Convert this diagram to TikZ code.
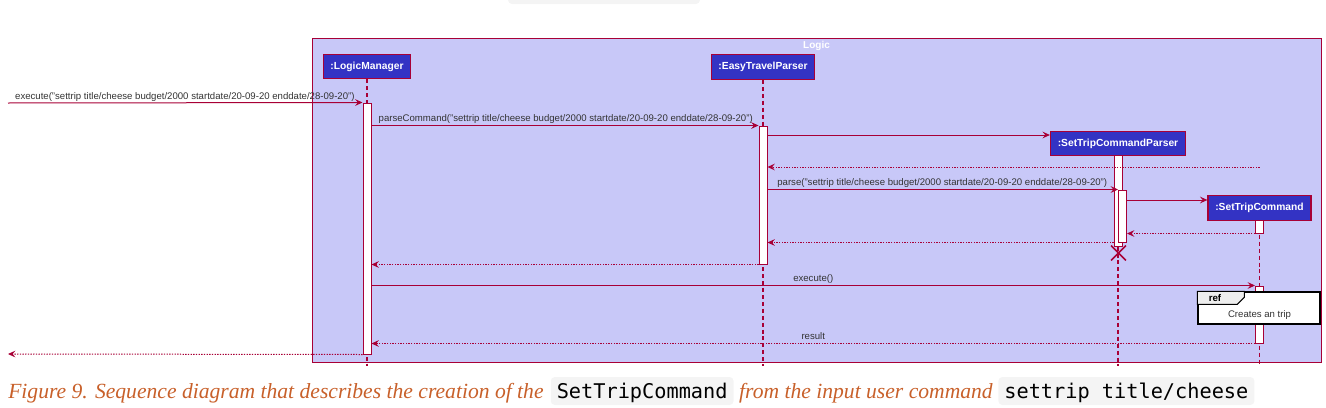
\documentclass[tikz,border=0pt]{standalone}
\usepackage{fontspec}
\setmainfont{Liberation Serif}
\setsansfont{Liberation Sans}
\setmonofont{DejaVu Sans Mono}
\usepackage{tikz}
\usetikzlibrary{arrows.meta, positioning, calc, fit, shapes.misc}
\definecolor{plumred} {HTML}{A80036}
\definecolor{logicbg} {HTML}{C8C8F8}
\definecolor{partbg}  {HTML}{3333C4}
\definecolor{capt}    {HTML}{C8602A}
\definecolor{codebg}  {HTML}{F4F4F4}
\definecolor{refhead} {HTML}{EEEEEE}

\begin{document}
\begin{tikzpicture}[x=0.75pt, y=-0.75pt,
  % One unit is one pixel of the screenshot, counted from the top left corner.
  part/.style={draw=plumred, fill=partbg, line width=0.9pt, text=white,
               font=\sffamily\bfseries\fontsize{7.7}{9}\selectfont,
               minimum height=18.5pt, inner xsep=5.5pt, inner ysep=0pt},
  life/.style={plumred, line width=0.8pt, dash pattern=on 3pt off 2.2pt},
  act/.style={draw=plumred, fill=white, line width=0.75pt, inner sep=0pt},
  % Calls are solid, returns dotted; both carry the same tip.
  call/.style={plumred, line width=0.75pt, -{Stealth[length=5.5pt, width=5pt, inset=2pt]}},
  ret/.style={call, dash pattern=on 1pt off 1pt},
  lbl/.style={font=\sffamily\fontsize{7.2}{8}\selectfont, text=black!80, inner sep=0pt},
  captext/.style={font=\rmfamily\itshape\fontsize{16.2}{19}\selectfont, text=capt, inner sep=0pt},
  code/.style={font=\ttfamily\fontsize{15.2}{18}\selectfont, fill=codebg, rounded corners=3pt,
               inner xsep=4.5pt, inner ysep=3pt, text height=12.75pt, text depth=2.25pt}
]
\useasboundingbox (0,0) rectangle (1326,407);

% cut-off code box of the line above
\fill[codebg, rounded corners=3pt] (508,-8) rectangle (700,4);

\node[draw=plumred, fill=logicbg, line width=0.75pt, inner sep=0pt, fit={(312,38) (1321,362)}] (logic) {};
\node[font=\sffamily\bfseries\fontsize{7.5}{9}\selectfont, text=white, anchor=north, inner sep=2.5pt] (logicT) at (logic.north) {Logic};

\node[part] (lm)   at (367,66.5)  {:LogicManager};
\node[part] (etp)  at (763,67)    {:EasyTravelParser};
\node[part] (stcp) at (1118,143.5) {:SetTripCommandParser};
\node[part] (stc)  at (1259.5,208) {:SetTripCommand};

\coordinate (foot)       at (0,366);
\coordinate (caller)     at (8,103);
\coordinate (callerBack) at (8,354);
\coordinate (rowNew1)    at (0,135);
\coordinate (rowBack1)   at (0,167);
\coordinate (rowNew2)    at (0,200);

\foreach \p in {lm, etp, stcp, stc}
  \draw[life] (\p.south) -- (\p.south |- foot);

\node[act, fit={(363,103) (371,354)}]       (lmAct)   {};
\node[act, fit={(759,126) (767,264)}]       (etpAct)  {};
\node[act, fit={(1114,155) (1122.5,246)}]   (stcpAct) {};
\node[act, fit={(1118.5,190) (1126.5,242)}] (stcpIn)  {};
\node[act, fit={(1255.5,220) (1263.5,233)}] (stcAct1) {};
\node[act, fit={(1255.5,286) (1263.5,343)}] (stcAct2) {};

\draw[call] (caller) -- node[lbl, pos=0, anchor=base west, xshift=5pt, yshift=3pt] (mExec) {execute("settrip title/cheese budget/2000 startdate/20-09-20 enddate/28-09-20")} (lmAct.north west);
\draw[call] (lmAct.east |- etpAct.north) -- node[lbl, pos=0, anchor=base west, xshift=5pt, yshift=3pt] (mParseCmd) {parseCommand("settrip title/cheese budget/2000 startdate/20-09-20 enddate/28-09-20")} (etpAct.north west);
\draw[call] (etpAct.east |- rowNew1) -- (stcp.west |- rowNew1);
\draw[ret]  (stc |- rowBack1) -- (etpAct.east |- rowBack1);
\draw[call] (etpAct.east |- stcpIn.north) -- node[lbl, pos=0, anchor=base west, xshift=7pt, yshift=3pt] (mParse) {parse("settrip title/cheese budget/2000 startdate/20-09-20 enddate/28-09-20")} (stcpIn.north west);
\draw[call] (stcpIn.east |- rowNew2) -- (stc.west |- rowNew2);
\draw[ret]  (stcAct1.south west) -- (stcpIn.east |- stcAct1.south);
\draw[ret]  (stcpAct.west |- stcpIn.south) -- (etpAct.east |- stcpIn.south);
\draw[ret]  (etpAct.south west) -- (lmAct.east |- etpAct.south);
\draw[call] (lmAct.east |- stcAct2.north) -- node[lbl, midway, anchor=base, yshift=3pt] (mExec2) {execute()} (stcAct2.north west);
\draw[ret]  (stcAct2.south west) -- node[lbl, midway, anchor=base, yshift=3pt] (mResult) {result} (lmAct.east |- stcAct2.south);
\draw[ret]  (lmAct.south west) -- (callerBack);

\node[cross out, draw=plumred, line width=1.1pt, minimum size=10pt, inner sep=0pt] (kill) at (1118.5,253) {};

% ref frame laid over the activation of :SetTripCommand
\node[draw=black, fill=white, line width=1pt, inner sep=0pt, fit={(1198,292) (1320,324)}] (refBox) {};
\draw[line width=0.8pt, fill=refhead] (refBox.north west) -- ++(47,0) -- ++(0,6) -- ++(-7,7) -- ++(-40,0) -- cycle;
\node[font=\sffamily\bfseries\fontsize{7.3}{8}\selectfont, inner sep=0pt] (refT) at (1215,298.5) {ref};
\node[lbl] (refTxt) at (1259.5,315) {Creates an trip};

\node[captext, anchor=base west] (cap1) at (8,398) {Figure 9. Sequence diagram that describes the creation of the};
\node[code, base right=5pt of cap1] (code1) {SetTripCommand};
\node[captext, base right=3.8pt of code1] (cap2) {from the input user command};
\node[code, base right=3.8pt of cap2] (code2) {settrip title/cheese};

\end{tikzpicture}
\end{document}
